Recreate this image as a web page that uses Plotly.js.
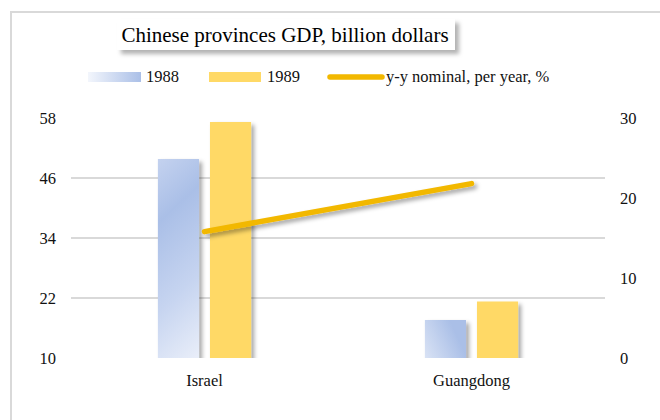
<!DOCTYPE html>
<html>
<head>
<meta charset="utf-8">
<script src="https://cdn.plot.ly/plotly-3.0.1.min.js"></script>
<style>
  html, body { margin:0; padding:0; background:#fff; overflow:hidden; }
  #frame { position:absolute; left:10px; top:11px; width:700px; height:500px;
           border-top:2px solid #d9d9d9; border-left:2px solid #d9d9d9; }
  #chart { position:absolute; left:0; top:0; width:660px; height:420px; }
</style>
</head>
<body>
<div id="frame"></div>
<div id="chart"></div>
<script>
// ---- data ----
const categories = ["Israel", "Guangdong"];
const gdp1988 = [49.8, 17.6];
const gdp1989 = [57.2, 21.3];
const yyNominal = [15.8, 21.8];
const seriesNames = ["1988", "1989", "y-y nominal, per year, %"];
const leftTicks = [10, 22, 34, 46, 58];
const rightTicks = [0, 10, 20, 30];

const FONT = "Liberation Serif, Times New Roman, serif";
const BLUE = "#b4c7e7";
const YELLOW = "#ffd966";
const GOLD = "#f2b800";
const FS = 16.5;

const data = [
  { type:"bar", name:seriesNames[0], x:categories, y:gdp1988, marker:{color:BLUE}, showlegend:false },
  { type:"bar", name:seriesNames[1], x:categories, y:gdp1989, marker:{color:YELLOW}, showlegend:false },
  { type:"scatter", mode:"lines", name:seriesNames[2], x:categories, y:yyNominal, yaxis:"y2",
    line:{color:GOLD, width:5.5}, showlegend:false }
];

// paper coordinate helpers (plot area: x 71..605, y 118..358)
const L = 71, R = 605, T = 118, B = 358;
const px = v => (v - L) / (R - L);
const py = v => (B - v) / (B - T);

const layout = {
  width:660, height:420,
  margin:{l:L, r:660-R, t:T, b:420-B},
  paper_bgcolor:"rgba(0,0,0,0)", plot_bgcolor:"rgba(0,0,0,0)",
  font:{family:FONT, size:FS, color:"#111"},
  barmode:"group", bargap:0.61, bargroupgap:0.21,
  showlegend:false,
  title:{text:"Chinese provinces GDP, billion dollars", font:{family:FONT, size:21, color:"#000"},
         xref:"container", yref:"container", x:285/660, xanchor:"center", y:1-35/420, yanchor:"middle"},
  xaxis:{type:"category", showgrid:false, showline:false, zeroline:false, ticks:"",
         tickfont:{family:FONT, size:FS, color:"#111"}, ticklabelstandoff:10},
  yaxis:{range:[10,58], tickvals:leftTicks, showgrid:true, gridcolor:"#d9d9d9", gridwidth:1.4,
         zeroline:false, showline:false, ticks:"", ticklabelstandoff:14,
         tickfont:{family:FONT, size:FS, color:"#111"}},
  yaxis2:{range:[0,30], tickvals:rightTicks, overlaying:"y", side:"right", showgrid:false,
          zeroline:false, showline:false, ticks:"", ticklabelstandoff:14,
          tickfont:{family:FONT, size:FS, color:"#111"}},
  shapes:[
    // title box
    {type:"rect", xref:"paper", yref:"paper", x0:px(117), x1:px(455), y0:py(50), y1:py(19),
     fillcolor:"#ffffff", line:{width:0}},
    // legend swatches
    {type:"rect", xref:"paper", yref:"paper", x0:px(88), x1:px(141), y0:py(82), y1:py(72),
     fillcolor:BLUE, line:{width:0}},
    {type:"rect", xref:"paper", yref:"paper", x0:px(209), x1:px(261), y0:py(82), y1:py(72),
     fillcolor:YELLOW, line:{width:0}},
    {type:"line", xref:"paper", yref:"paper", x0:px(330), x1:px(382), y0:py(77), y1:py(77),
     line:{color:GOLD, width:5.5}}
  ],
  annotations:[
    {xref:"paper", yref:"paper", x:px(144), y:py(77), xanchor:"left", yanchor:"middle",
     text:seriesNames[0], showarrow:false, font:{family:FONT, size:FS, color:"#111"}},
    {xref:"paper", yref:"paper", x:px(265), y:py(77), xanchor:"left", yanchor:"middle",
     text:seriesNames[1], showarrow:false, font:{family:FONT, size:FS, color:"#111"}},
    {xref:"paper", yref:"paper", x:px(384), y:py(77), xanchor:"left", yanchor:"middle",
     text:seriesNames[2], showarrow:false, font:{family:FONT, size:FS, color:"#111"}}
  ]
};

const gd = document.getElementById("chart");
Plotly.newPlot(gd, data, layout, {staticPlot:true, displayModeBar:false}).then(() => {
  const ns = "http://www.w3.org/2000/svg";
  const svg = gd.querySelector("svg.main-svg");
  let defs = svg.querySelector("defs");
  if (!defs) { defs = document.createElementNS(ns, "defs"); svg.insertBefore(defs, svg.firstChild); }
  const mk = (tag, attrs, parent) => {
    const e = document.createElementNS(ns, tag);
    for (const k in attrs) e.setAttribute(k, attrs[k]);
    (parent || defs).appendChild(e);
    return e;
  };
  // vertical gradient for tall bar
  const g1 = mk("linearGradient", {id:"gBarV", x1:"0", y1:"0", x2:"0.15", y2:"1"});
  mk("stop", {offset:"0", "stop-color":"#c4d2ef"}, g1);
  mk("stop", {offset:"0.25", "stop-color":"#aabfe7"}, g1);
  mk("stop", {offset:"0.6", "stop-color":"#c6d4f0"}, g1);
  mk("stop", {offset:"1", "stop-color":"#f1f4fb"}, g1);
  // diagonal gradient for short bar
  const g2 = mk("linearGradient", {id:"gBarD", x1:"0", y1:"1", x2:"0.8", y2:"0.2"});
  mk("stop", {offset:"0", "stop-color":"#f3f6fc"}, g2);
  mk("stop", {offset:"1", "stop-color":"#aabfe7"}, g2);
  // legend gradient
  const g3 = mk("linearGradient", {id:"gLeg", x1:"0", y1:"0", x2:"1", y2:"0"});
  mk("stop", {offset:"0", "stop-color":"#f3f6fc"}, g3);
  mk("stop", {offset:"1", "stop-color":"#aabfe7"}, g3);
  // shadow filters
  const f = mk("filter", {id:"shadow", x:"-20%", y:"-20%", width:"150%", height:"150%"});
  mk("feDropShadow", {dx:"3", dy:"3", stdDeviation:"2", "flood-color":"#000", "flood-opacity":"0.35"}, f);
  const f2 = mk("filter", {id:"shadowBox", x:"-10%", y:"-30%", width:"130%", height:"180%"});
  mk("feDropShadow", {dx:"4", dy:"4", stdDeviation:"2", "flood-color":"#000", "flood-opacity":"0.3"}, f2);

  const barTraces = gd.querySelectorAll(".barlayer .trace");
  if (barTraces[0]) {
    const ps = barTraces[0].querySelectorAll("path");
    ps.forEach((p, i) => { p.style.fill = i === 0 ? "url(#gBarV)" : "url(#gBarD)"; });
  }
  barTraces.forEach(t => t.querySelectorAll("path").forEach(p => p.setAttribute("filter", "url(#shadow)")));
  gd.querySelectorAll(".scatterlayer .js-line").forEach(p => {
    p.style.strokeLinecap = "round";
    p.setAttribute("filter", "url(#shadow)");
  });
  const shp = gd.querySelectorAll(".layer-above .shapelayer path");
  if (shp[0]) shp[0].setAttribute("filter", "url(#shadowBox)");
  if (shp[1]) shp[1].style.fill = "url(#gLeg)";
  if (shp[3]) shp[3].style.strokeLinecap = "round";
});
</script>
</body>
</html>
